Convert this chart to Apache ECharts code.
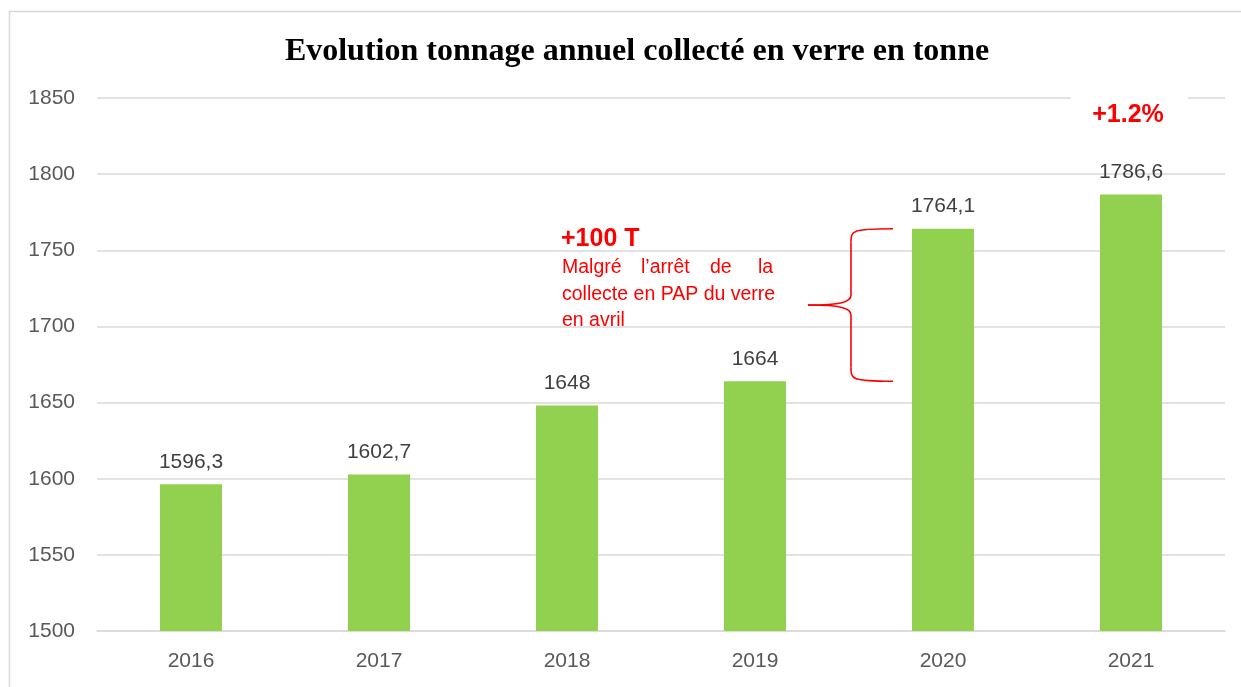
<!DOCTYPE html>
<html><head><meta charset="utf-8">
<script src="https://cdn.jsdelivr.net/npm/echarts@6/dist/echarts.min.js"></script>
<style>html,body{margin:0;padding:0;background:#fff}#c{width:1241px;height:687px}</style>
</head><body><div id="c"></div>
<script>
const titleText = 'Evolution tonnage annuel collecté en verre en tonne';
const years = ['2016','2017','2018','2019','2020','2021'];
const tonnage = [1596.3, 1602.7, 1648, 1664, 1764.1, 1786.6];
const labelsText = ['1596,3','1602,7','1648','1664','1764,1','1786,6'];
const yMin = 1500, yMax = 1850, yStep = 50;
const growthLabel = '+1.2%';
const deltaLabel = '+100 T';
const noteLine1 = ['Malgré','l’arrêt','de','la'];
const noteLine2 = 'collecte en PAP du verre';
const noteLine3 = 'en avril';

const chart = echarts.init(document.getElementById('c'), null, {renderer:'canvas'});
const FONT = '"Liberation Sans", Arial, sans-serif';
chart.setOption({
  animation:false,
  backgroundColor:'#fff',
  title:{text:titleText,left:632,top:31,textAlign:'center',
    textStyle:{fontFamily:'"Liberation Serif", serif',fontWeight:'bold',fontSize:32,color:'#000'}},
  grid:{left:97,right:16,top:98,bottom:56,containLabel:false},
  xAxis:{type:'category',data:years,
    axisLine:{lineStyle:{color:'#d9d9d9',width:1.5}},axisTick:{show:false},
    axisLabel:{color:'#595959',fontSize:21,fontFamily:FONT,margin:20}},
  yAxis:{type:'value',min:yMin,max:yMax,interval:yStep,
    axisLine:{show:false},axisTick:{show:false},
    splitLine:{lineStyle:{color:'#d9d9d9',width:1.5}},
    axisLabel:{color:'#595959',fontSize:21,fontFamily:FONT,margin:22,formatter:v=>String(v)}},
  series:[{type:'bar',data:tonnage,barWidth:62,itemStyle:{color:'#92D050'},
    label:{show:true,position:'top',distance:12,color:'#404040',fontSize:21,fontFamily:FONT,
      formatter:p=>labelsText[p.dataIndex]}}]
});

function txt(x,y,text,extra){
  return {type:'text',x:x,y:y,z:60,style:Object.assign({text:text,fill:'#FF0000',fontSize:19.5,fontFamily:FONT,textAlign:'left',textVerticalAlign:'top',align:'left',verticalAlign:'top'},extra||{})};
}
function place(){
  const top = chart.convertToPixel({gridIndex:0},[years[4],tonnage[4]]);
  const bot = chart.convertToPixel({gridIndex:0},[years[3],tonnage[3]]);
  const g21 = chart.convertToPixel({gridIndex:0},[years[5],yMax]);
  const yT = top[1], yB = bot[1], yM = (yT+yB)/2;
  const xR = 893, xS = 851, xL = 808;
  const st = {fill:null,stroke:'#FF0000',lineWidth:1.6};
  const brace = [
    {type:'bezierCurve',shape:{x1:xR,y1:yT,cpx1:xS,cpy1:yT,cpx2:xS,cpy2:yT+2,x2:xS,y2:yT+14},style:st,z:40},
    {type:'line',shape:{x1:xS,y1:yT+14,x2:xS,y2:yM-10},style:st,z:40},
    {type:'bezierCurve',shape:{x1:xS,y1:yM-10,cpx1:xS,cpy1:yM-3,cpx2:xS-10,cpy2:yM,x2:xL,y2:yM},style:st,z:40},
    {type:'bezierCurve',shape:{x1:xL,y1:yM,cpx1:xS-10,cpy1:yM,cpx2:xS,cpy2:yM+3,x2:xS,y2:yM+10},style:st,z:40},
    {type:'line',shape:{x1:xS,y1:yM+10,x2:xS,y2:yB-14},style:st,z:40},
    {type:'bezierCurve',shape:{x1:xS,y1:yB-14,cpx1:xS,cpy1:yB-2,cpx2:xS,cpy2:yB,x2:xR,y2:yB},style:st,z:40}
  ];
  const xs = [562, 641, 710, 758];
  const words = noteLine1.map((w,i)=>txt(xs[i],258,w));
  chart.setOption({graphic:[
    {type:'rect',shape:{x:9.5,y:11.5,width:1250,height:700},style:{fill:null,stroke:'#d9d9d9',lineWidth:1.5},silent:true},
    {type:'rect',shape:{x:1071,y:g21[1]-3,width:117,height:6},style:{fill:'#fff'},z:50},
    {type:'text',x:g21[0]-3,y:g21[1]+17,z:60,style:{text:growthLabel,fill:'#FF0000',fontSize:25,fontWeight:'bold',fontFamily:FONT,textAlign:'center',textVerticalAlign:'middle',align:'center',verticalAlign:'middle'}},
    txt(561,227,deltaLabel,{fontSize:25,fontWeight:'bold'}),
    ...words,
    txt(562,285,noteLine2),
    txt(562,311,noteLine3),
    ...brace
  ]});
}
place();
</script></body></html>
